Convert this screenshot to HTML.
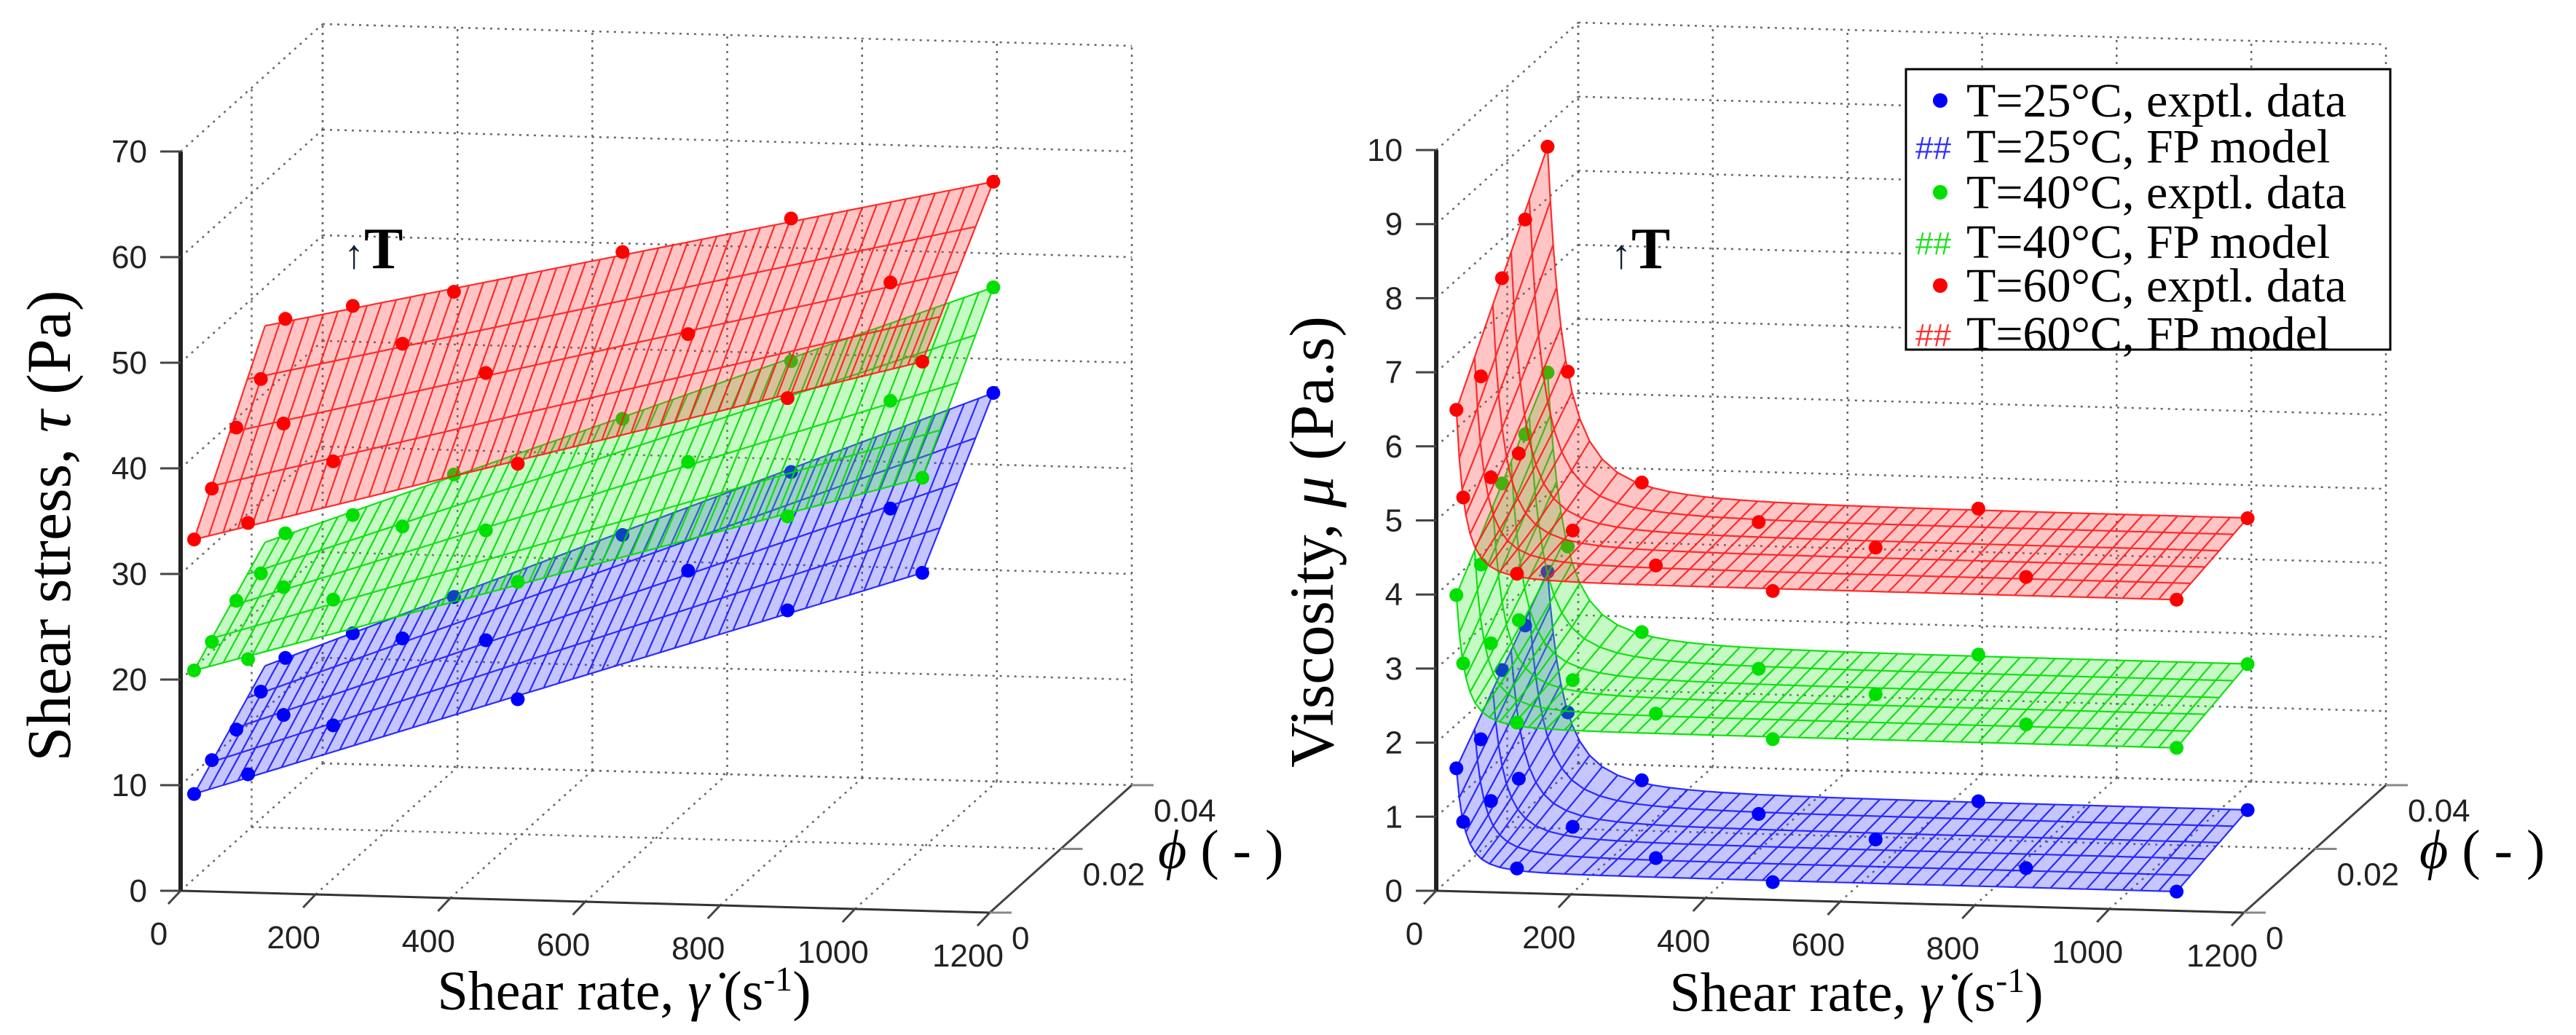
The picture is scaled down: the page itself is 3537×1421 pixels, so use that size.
<!DOCTYPE html>
<html><head><meta charset="utf-8">
<style>
html,body{margin:0;padding:0;background:#fff;}
svg{display:block;}
.tk{font-family:"Liberation Sans",sans-serif;font-size:44px;fill:#222;}
.ttl{font-family:"Liberation Serif",serif;font-size:76px;fill:#000;}
.yt{font-family:"Liberation Serif",serif;font-size:86px;fill:#000;}
.lg{font-family:"Liberation Serif",serif;font-size:66px;fill:#000;}
</style></head>
<body>
<svg id="fig" width="3537" height="1421" viewBox="0 0 3537 1421" xmlns="http://www.w3.org/2000/svg">
  <g id="left"></g>
  <g id="right"></g>
  <text class="yt" transform="translate(96,722) rotate(-90)" text-anchor="middle">Shear stress, <tspan font-style="italic">τ</tspan> (Pa)</text>
  <text class="ttl" x="857" y="1386" text-anchor="middle">Shear rate, <tspan font-style="italic">γ̇</tspan> (s<tspan dy="-26" font-size="48">-1</tspan><tspan dy="26">)</tspan></text>
  <text class="ttl" x="1590" y="1192" font-size="80"><tspan font-style="italic">ϕ</tspan> ( - )</text>
  <text x="472" y="368" font-family="Liberation Serif,serif" font-size="80" font-weight="bold"><tspan font-size="56" fill="#123">↑</tspan>T</text>
  <text class="yt" transform="translate(1830,744) rotate(-90)" text-anchor="middle">Viscosity, <tspan font-style="italic">μ</tspan> (Pa.s)</text>
  <text class="ttl" x="2549" y="1388" text-anchor="middle">Shear rate, <tspan font-style="italic">γ̇</tspan> (s<tspan dy="-26" font-size="48">-1</tspan><tspan dy="26">)</tspan></text>
  <text class="ttl" x="3322" y="1192" font-size="80"><tspan font-style="italic">ϕ</tspan> ( - )</text>
  <text x="2212" y="368" font-family="Liberation Serif,serif" font-size="80" font-weight="bold"><tspan font-size="56" fill="#123">↑</tspan>T</text>
  <g>
    <rect x="2617" y="95" width="665" height="385" fill="#fff" stroke="#000" stroke-width="3"/>
    <circle cx="2664" cy="138" r="10" fill="#0000ff"/>
    <text class="lg" x="2700" y="160">T=25°C, exptl. data</text>
    <text x="2630" y="218" style="fill:#3030ff;font-family:'Liberation Sans',sans-serif;font-size:44px">##</text>
    <text class="lg" x="2700" y="223">T=25°C, FP model</text>
    <circle cx="2664" cy="264" r="10" fill="#00e000"/>
    <text class="lg" x="2700" y="286">T=40°C, exptl. data</text>
    <text x="2630" y="349" style="fill:#20e020;font-family:'Liberation Sans',sans-serif;font-size:44px">##</text>
    <text class="lg" x="2700" y="354">T=40°C, FP model</text>
    <circle cx="2664" cy="392" r="10" fill="#ff0000"/>
    <text class="lg" x="2700" y="414">T=60°C, exptl. data</text>
    <text x="2630" y="475" style="fill:#ff3030;font-family:'Liberation Sans',sans-serif;font-size:44px">##</text>
    <text class="lg" x="2700" y="480">T=60°C, FP model</text>
  </g>
</svg>
<script>
// ---- data ----
const xTicks = [0,200,400,600,800,1000,1200];
const phiTicks = [0,0.02,0.04];
const phiTickLabels = ["0","0.02","0.04"];
const leftZTicks = [0,10,20,30,40,50,60,70];
const rightZTicks = [0,1,2,3,4,5,6,7,8,9,10];
// left: experimental points (shear rate, phi) and shear stress per temperature
const leftPtX   = [20,20,30,40,50,100,100,150,200,250,300,400,500,550,700,800,900,1000,1100,1100];
const leftPtPhi = [0,0.005,0.01,0.015,0.02,0,0.01,0.02,0.005,0.015,0.02,0.01,0,0.02,0.01,0.02,0,0.01,0,0.02];
const leftBlue  = [9.2,10.9,12.3,14.4,16.1,11.2,13.8,18.6,14.5,19.8,22.3,21.4,19.0,28.6,28.5,35.0,28.1,34.9,32.0,43.0];
const leftGreen = [20.9,22.1,24.5,25.6,27.9,22.1,25.9,29.8,26.4,30.4,33.9,31.8,30.1,39.6,38.8,45.5,37.0,45.1,41.0,53.0];
const leftRed   = [33.3,36.6,40.9,44.0,48.2,35.0,41.4,49.6,39.5,47.7,51.2,46.7,41.3,55.4,50.9,59.0,48.2,56.3,52.0,63.0];
// left model surfaces: [tau(x=20,phi=0), tau(x=1100,phi=0), tau(x=20,phi=0.02), tau(x=1100,phi=0.02)]
const leftSurfBlue  = [9.2,32,15.3,43];
const leftSurfGreen = [20.9,41,27,53];
const leftSurfRed   = [33.3,52,47.5,63];
// right: experimental points and viscosity per temperature
const rightPtX   = [30,40,45,53,60,40,55,70,90,120,150,200,300,400,500,600,700,850,1100,1100];
const rightPtPhi = [0,0.005,0.01,0.015,0.02,0,0.005,0.01,0.02,0,0.01,0.02,0.005,0.015,0,0.01,0.02,0.005,0,0.02];
const rightBlue  = [1.66,1.84,2.56,2.95,3.46,0.94,1.01,1.10,1.57,0.33,0.47,0.68,0.30,0.49,0.24,0.41,0.52,0.30,0.26,0.50];
const rightGreen = [4.0,4.2,5.08,5.53,6.15,3.08,3.14,3.24,3.81,2.30,2.45,2.68,2.25,2.45,2.17,2.37,2.50,2.24,2.2,2.47];
const rightRed   = [6.5,6.74,7.85,8.43,9.2,5.32,5.38,5.49,6.17,4.31,4.47,4.70,4.25,4.43,4.17,4.35,4.47,4.23,4.2,4.44];
// right model surfaces: [plateau(phi=0), plateau(phi=0.02), mu at start (phi=0), mu at start (phi=0.02)]
const rightSurfBlue  = [0.26,0.5,1.66,3.46];
const rightSurfGreen = [2.2,2.47,4.0,6.15];
const rightSurfRed   = [4.2,4.44,6.5,9.2];

const NS = "http://www.w3.org/2000/svg";
function mk(parent, tag, attrs){
  const e = document.createElementNS(NS, tag);
  for (const k in attrs) e.setAttribute(k, attrs[k]);
  parent.appendChild(e);
  return e;
}
const LC = {ox:248, oy:1223, xv:[1111,30], pv:[195,-175], zs:14.5, zmax:70};
const RC = {ox:1972, oy:1223, xv:[1109,30], pv:[195,-175], zs:101.7, zmax:10};
function proj(c,x,phi,z){
  return [c.ox + c.xv[0]*x/1200 + c.pv[0]*phi/0.04, c.oy + c.xv[1]*x/1200 + c.pv[1]*phi/0.04 - c.zs*z];
}
function line(g,a,b,attrs){
  return mk(g,'line',Object.assign({x1:a[0].toFixed(1),y1:a[1].toFixed(1),x2:b[0].toFixed(1),y2:b[1].toFixed(1)},attrs));
}
const dotted = {stroke:'#666','stroke-width':2.5,'stroke-dasharray':'3,7',fill:'none'};

function drawAxes(g,c,zTicks){
  const grid = mk(g,'g',{});
  
  
  xTicks.forEach(x=>{ const l=line(grid,proj(c,x,0.04,0),proj(c,x,0.04,c.zmax),dotted);
    
     });
  zTicks.forEach(z=>{ const l=line(grid,proj(c,0,0.04,z),proj(c,1200,0.04,z),dotted);
    
     });
  zTicks.forEach(z=>{ if(z===0) return; const l=line(grid,proj(c,0,0,z),proj(c,0,0.04,z),dotted);
    
     });
  phiTicks.forEach(p=>{ if(p===0) return; const l=line(grid,proj(c,0,p,0),proj(c,0,p,c.zmax),dotted);
    
     });
  xTicks.forEach(x=>{ const l=line(grid,proj(c,x,0,0),proj(c,x,0.04,0),dotted);
    
     });
  phiTicks.forEach(p=>{ if(p===0) return; const l=line(grid,proj(c,0,p,0),proj(c,1200,p,0),dotted);
    
     });
  const ax = line(g,proj(c,0,0,0),proj(c,1200,0,0),{stroke:'#333','stroke-width':3});
  
  
  const pa = line(g,proj(c,1200,0,0),proj(c,1200,0.04,0),{stroke:'#444','stroke-width':3});
  
  
  const za = line(g,proj(c,0,0,0),proj(c,0,0,c.zmax),{stroke:'#222','stroke-width':6});
  
  
  xTicks.forEach(x=>{
    const p=proj(c,x,0,0);
    const t=line(g,p,[p[0]-17,p[1]+18],{stroke:'#444','stroke-width':3});
    
    
    const tx=mk(g,'text',{x:(p[0]-30).toFixed(1),y:(p[1]+74).toFixed(1),'text-anchor':'middle','class':'tk'});
    tx.textContent=String(x);
    
    
  });
  phiTicks.forEach((ph,i)=>{
    const p=proj(c,1200,ph,0);
    const t=line(g,p,[p[0]+30,p[1]],{stroke:'#888','stroke-width':3});
    
    
    const tx=mk(g,'text',{x:(p[0]+30).toFixed(1),y:(p[1]+50).toFixed(1),'class':'tk'});
    tx.textContent=phiTickLabels[i];
    
    
  });
  zTicks.forEach(z=>{
    const p=proj(c,0,0,z);
    const t=line(g,p,[p[0]-28,p[1]],{stroke:'#444','stroke-width':3});
    
    
    const tx=mk(g,'text',{x:(p[0]-46).toFixed(1),y:(p[1]+15).toFixed(1),'text-anchor':'end','class':'tk'});
    tx.textContent=String(z);
    
    
  });
}

// fn(u,phi) returns [x, z]
function drawSurface(g,c,fn,us,phis,fill,stroke,name){
  const sg = mk(g,'g',{});
  
  
  const P=(u,p)=>{const r=fn(u,p);return proj(c,r[0],p,r[1]);};
  const fg = mk(sg,'g',{opacity:0.28});
  for(let i=0;i<us.length-1;i++) for(let j=0;j<phis.length-1;j++){
    const pts=[[us[i],phis[j]],[us[i+1],phis[j]],[us[i+1],phis[j+1]],[us[i],phis[j+1]]]
      .map(q=>P(q[0],q[1]).map(v=>v.toFixed(1)).join(','));
    const pg=mk(fg,'polygon',{points:pts.join(' '),fill:fill,stroke:fill,'stroke-width':1});
    
    
  }
  const lg = mk(sg,'g',{stroke:stroke,'stroke-width':2.2,fill:'none',opacity:0.9});
  us.forEach(u=>{
    const d=phis.map((p,k)=>{const q=P(u,p);return (k?'L':'M')+q[0].toFixed(1)+','+q[1].toFixed(1);}).join('');
    const pl=mk(lg,'path',{d:d});
    
    
  });
  phis.forEach(p=>{
    const d=us.map((u,k)=>{const q=P(u,p);return (k?'L':'M')+q[0].toFixed(1)+','+q[1].toFixed(1);}).join('');
    const pl=mk(lg,'path',{d:d});
    
    
  });
}
function drawPoints(g,c,xs,phis,vals,color,name){
  const pg=mk(g,'g',{fill:color});
  
  
  vals.forEach((v,i)=>{
    const p=proj(c,xs[i],phis[i],v);
    const ci=mk(pg,'circle',{cx:p[0].toFixed(1),cy:p[1].toFixed(1),r:9.5});
    
    
  });
}
function leftFn(s){ return (u,p)=>{const x=20+1080*u; const f0=s[0]+(s[1]-s[0])*u, f1=s[2]+(s[3]-s[2])*u; return [x, f0+(f1-f0)*p/0.02];}; }
function rightFn(s){ return (u,p)=>{
  const x0=30+1500*p, x=x0+(1100-x0)*u;
  const P=s[0]+(s[1]-s[0])*p/0.02, L=s[2]+(s[3]-s[2])*p/0.02;
  return [x, P+(L-P)*Math.pow(x0/x,2.5)];
}; }

const gl=document.getElementById('left'), gr=document.getElementById('right');
drawAxes(gl,LC,leftZTicks);
drawAxes(gr,RC,rightZTicks);
const lus=[]; for(let i=0;i<=50;i++) lus.push(i/50);
const lph=[0,0.005,0.01,0.015,0.02];
const rus=[0,0.004,0.008,0.013,0.019,0.026,0.035,0.046,0.06,0.078,0.1]; for(let u=0.125;u<=1.0001;u+=0.025) rus.push(u);
const rph=[0,0.004,0.008,0.012,0.016,0.02];
const COL=[['#3333ff','#1a1aff','#0000ff'],['#33ee33','#00dd00','#00e000'],['#ff3333','#ff1a1a','#ff0000']];
[[leftSurfBlue,leftBlue,'blue'],[leftSurfGreen,leftGreen,'green'],[leftSurfRed,leftRed,'red']].forEach((s,i)=>{
  drawSurface(gl,LC,leftFn(s[0]),lus,lph,COL[i][0],COL[i][1],'surface-'+s[2]);
  drawPoints(gl,LC,leftPtX,leftPtPhi,s[1],COL[i][2],'points-'+s[2]);
});
[[rightSurfBlue,rightBlue,'blue'],[rightSurfGreen,rightGreen,'green'],[rightSurfRed,rightRed,'red']].forEach((s,i)=>{
  drawSurface(gr,RC,rightFn(s[0]),rus,rph,COL[i][0],COL[i][1],'surface-'+s[2]);
  drawPoints(gr,RC,rightPtX,rightPtPhi,s[1],COL[i][2],'points-'+s[2]);
});
</script>
</body></html>
